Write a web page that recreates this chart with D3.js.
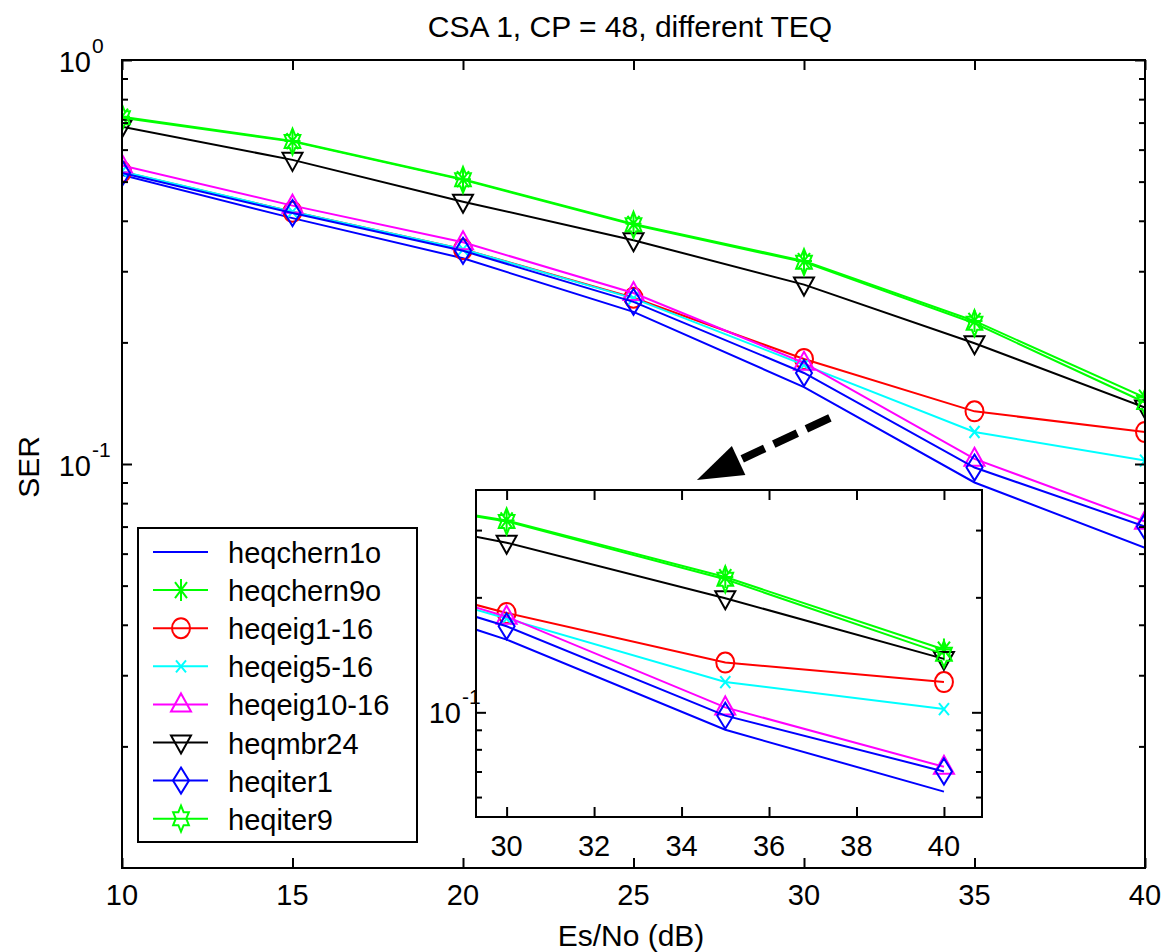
<!DOCTYPE html>
<html><head><meta charset="utf-8">
<script src="https://cdn.jsdelivr.net/npm/d3@7"></script>
<style>
body{margin:0;background:#fff}
svg{display:block}
text{font-family:"Liberation Sans",Arial,Helvetica,sans-serif;fill:#000}
</style>
</head><body>
<svg id="chart" width="1164" height="952"></svg>
<script>
// ---------- data ----------
const snr = [10, 15, 20, 25, 30, 35, 40];
const heqchern1o  = [0.519, 0.406, 0.323, 0.238, 0.155, 0.090, 0.062];
const heqchern9o  = [0.724, 0.630, 0.507, 0.393, 0.318, 0.226, 0.146];
const heqeig1_16  = [0.529, 0.421, 0.340, 0.258, 0.182, 0.135, 0.120];
const heqeig5_16  = [0.530, 0.421, 0.340, 0.257, 0.176, 0.120, 0.102];
const heqeig10_16 = [0.548, 0.436, 0.354, 0.265, 0.178, 0.103, 0.072];
const heqmbr24    = [0.684, 0.566, 0.446, 0.358, 0.278, 0.199, 0.138];
const heqiter1    = [0.525, 0.418, 0.337, 0.252, 0.168, 0.098, 0.070];
const heqiter9    = [0.720, 0.628, 0.505, 0.391, 0.316, 0.223, 0.142];

const seriesNames = ["heqchern1o","heqchern9o","heqeig1-16","heqeig5-16","heqeig10-16","heqmbr24","heqiter1","heqiter9"];
const seriesValues = [heqchern1o, heqchern9o, heqeig1_16, heqeig5_16, heqeig10_16, heqmbr24, heqiter1, heqiter9];

const xTicksMain = [10, 15, 20, 25, 30, 35, 40];
const xTicksInset = [30, 32, 34, 36, 38, 40];
const yMajorMain = [1, 0.1];
const yMajorLabels = [["10","0"], ["10","-1"]];
const yMinorMain = [0.02,0.03,0.04,0.05,0.06,0.07,0.08,0.09,0.2,0.3,0.4,0.5,0.6,0.7,0.8,0.9];
const yMajorInset = [0.1];
const yInsetLabels = [["10","-1"]];
const yMinorInset = [0.06,0.07,0.08,0.09,0.2,0.3];
const titleText = "CSA 1, CP = 48, different TEQ";
const xLabelText = "Es/No (dB)";
const yLabelText = "SER";
// arrow annotation (data coords of main axes): start, tip
const arrowStart = [30.76, 0.130];
const arrowTip = [26.86, 0.0913];

// ---------- styles ----------
const colors = ["#0000ff","#00ff00","#ff0000","#00ffff","#ff00ff","#000000","#0000ff","#00ff00"];
const markers = [null, "*", "o", "x", "^", "v", "d", "h"];

function markerPath(t){
  switch(t){
    case "o": return "M-9,0A9,10 0 1,0 9,0A9,10 0 1,0 -9,0Z";
    case "*": return "M-8,0H8M0,-11V11M-6,-8L6,8M-6,8L6,-8";
    case "x": return "M-5,-6L5,6M-5,6L5,-6";
    case "^": return "M0,-11L10,7L-10,7Z";
    case "v": return "M0,11L10,-7L-10,-7Z";
    case "d": return "M0,-13L8,0L0,13L-8,0Z";
    case "h": {
      const pts=[];
      for(let i=0;i<12;i++){
        const a=-Math.PI/2+i*Math.PI/6;
        const r=(i%2===0)?13:13/Math.sqrt(3);
        pts.push([0.7*r*Math.cos(a), r*Math.sin(a)]);
      }
      return "M"+pts.map(p=>p[0].toFixed(2)+","+p[1].toFixed(2)).join("L")+"Z";
    }
  }
  return "";
}

const svg = d3.select("#chart");
const FS = 29;

// ---------- main axes ----------
const xMain = d3.scaleLinear().domain([10, 40]).range([122, 1145]);
const yMain = d3.scaleLog().domain([0.01, 1]).range([868, 60]);

function drawPlot(g, xs, ys, clipId){
  const line = d3.line().x((d,i)=>xs(snr[i])).y(d=>ys(d));
  g.append("clipPath").attr("id", clipId).append("rect")
    .attr("x", xs.range()[0]).attr("y", ys.range()[1])
    .attr("width", xs.range()[1]-xs.range()[0]).attr("height", ys.range()[0]-ys.range()[1]);
  const dg = g.append("g").attr("clip-path", `url(#${clipId})`);
  seriesValues.forEach((vals, k)=>{
    const sg = dg.append("g");
    sg.append("path").attr("d", line(vals)).attr("fill","none")
      .attr("stroke", colors[k]).attr("stroke-width", 2);
    if(markers[k]){
      sg.selectAll("path.m").data(vals).enter().append("path").attr("class","m")
        .attr("d", markerPath(markers[k]))
        .attr("transform",(d,i)=>`translate(${xs(snr[i])},${ys(d)})`)
        .attr("fill","none").attr("stroke", colors[k]).attr("stroke-width", 2);
    }
  });
}

function drawFrame(g, xs, ys, xt, yMaj, yMin){
  const [x0,x1] = xs.range(); const [y0,y1] = ys.range();
  const bottom = d3.axisBottom(xs).tickValues(xt).tickSize(-10).tickFormat("");
  const top = d3.axisTop(xs).tickValues(xt).tickSize(-10).tickFormat("");
  const left = d3.axisLeft(ys).tickValues(yMaj).tickSize(-10).tickFormat("");
  const right = d3.axisRight(ys).tickValues(yMaj).tickSize(-10).tickFormat("");
  const leftm = d3.axisLeft(ys).tickValues(yMin).tickSize(-6).tickFormat("");
  const rightm = d3.axisRight(ys).tickValues(yMin).tickSize(-6).tickFormat("");
  const add = (ax, tr)=>{
    const a = g.append("g").attr("transform", tr).call(ax);
    a.select(".domain").remove();
    a.selectAll("line").attr("stroke","#000").attr("stroke-width",2);
  };
  add(bottom, `translate(0,${y0})`);
  add(top, `translate(0,${y1})`);
  add(left, `translate(${x0},0)`);
  add(right, `translate(${x1},0)`);
  add(leftm, `translate(${x0},0)`);
  add(rightm, `translate(${x1},0)`);
  g.append("rect").attr("x",x0).attr("y",y1).attr("width",x1-x0).attr("height",y0-y1)
    .attr("fill","none").attr("stroke","#000").attr("stroke-width",2);
}

const mainG = svg.append("g");
drawPlot(mainG, xMain, yMain, "clipMain");
drawFrame(mainG, xMain, yMain, xTicksMain, yMajorMain, yMinorMain);

// main x tick labels
mainG.selectAll("text.xt").data(xTicksMain).enter().append("text").attr("class","xt")
  .attr("x", d=>xMain(d)).attr("y", 905).attr("text-anchor","middle")
  .attr("font-size", FS).text(d=>d);
// main y tick labels with superscript
yMajorMain.forEach((v,i)=>{
  const y = yMain(v);
  mainG.append("text").attr("x", 91).attr("y", y+12).attr("text-anchor","end")
    .attr("font-size", FS).text(yMajorLabels[i][0]);
  mainG.append("text").attr("x", 92).attr("y", y-7).attr("text-anchor","start")
    .attr("font-size", 21).text(yMajorLabels[i][1]);
});

// titles
svg.append("text").attr("x", 630).attr("y", 37).attr("text-anchor","middle")
  .attr("font-size", 30).text(titleText);
svg.append("text").attr("x", 631).attr("y", 946).attr("text-anchor","middle")
  .attr("font-size", 30).text(xLabelText);
svg.append("text").attr("transform","translate(39,467) rotate(-90)").attr("text-anchor","middle")
  .attr("font-size", 30).text(yLabelText);

// ---------- arrow ----------
(function(){
  const sx = xMain(arrowStart[0]), sy = yMain(arrowStart[1]);
  const tx = xMain(arrowTip[0]), ty = yMain(arrowTip[1]);
  const dx = sx-tx, dy = sy-ty, L = Math.hypot(dx,dy);
  const ux = dx/L, uy = dy/L;
  const headLen = 46, headHalf = 16;
  const bx = tx+ux*headLen, by = ty+uy*headLen;
  svg.append("line").attr("x1",sx).attr("y1",sy).attr("x2",bx+ux*4).attr("y2",by+uy*4)
    .attr("stroke","#000").attr("stroke-width",8).attr("stroke-dasharray","26,10");
  const px=-uy, py=ux;
  svg.append("path").attr("d",`M${tx},${ty}L${bx+px*headHalf},${by+py*headHalf}L${bx-px*headHalf},${by-py*headHalf}Z`)
    .attr("fill","#000");
})();

// ---------- inset ----------
const xIn = d3.scaleLinear().domain([29.3, 40.87]).range([476, 982]);
const yIn = d3.scaleLog().domain([0.0532, 0.382]).range([817, 490]);
const inG = svg.append("g");
inG.append("rect").attr("x",476).attr("y",490).attr("width",506).attr("height",327).attr("fill","#fff");
drawPlot(inG, xIn, yIn, "clipIn");
drawFrame(inG, xIn, yIn, xTicksInset, yMajorInset, yMinorInset);
inG.selectAll("text.xt").data(xTicksInset).enter().append("text").attr("class","xt")
  .attr("x", d=>xIn(d)).attr("y", 856).attr("text-anchor","middle")
  .attr("font-size", FS).text(d=>d);
yMajorInset.forEach((v,i)=>{
  const y = yIn(v);
  inG.append("text").attr("x", 461).attr("y", y+11).attr("text-anchor","end")
    .attr("font-size", FS).text(yInsetLabels[i][0]);
  inG.append("text").attr("x", 462).attr("y", y-8).attr("text-anchor","start")
    .attr("font-size", 21).text(yInsetLabels[i][1]);
});

// ---------- legend ----------
const lg = svg.append("g");
lg.append("rect").attr("x",138).attr("y",528).attr("width",279).attr("height",314)
  .attr("fill","#fff").attr("stroke","#000").attr("stroke-width",2);
seriesNames.forEach((name,k)=>{
  const y = 552 + k*38.1;
  lg.append("line").attr("x1",153).attr("x2",208).attr("y1",y).attr("y2",y)
    .attr("stroke",colors[k]).attr("stroke-width",2);
  if(markers[k]) lg.append("path").attr("d",markerPath(markers[k]))
    .attr("transform",`translate(181,${y})`).attr("fill","none")
    .attr("stroke",colors[k]).attr("stroke-width",2);
  lg.append("text").attr("x",228).attr("y",y+11).attr("font-size",FS).text(name);
});
</script>
</body></html>
